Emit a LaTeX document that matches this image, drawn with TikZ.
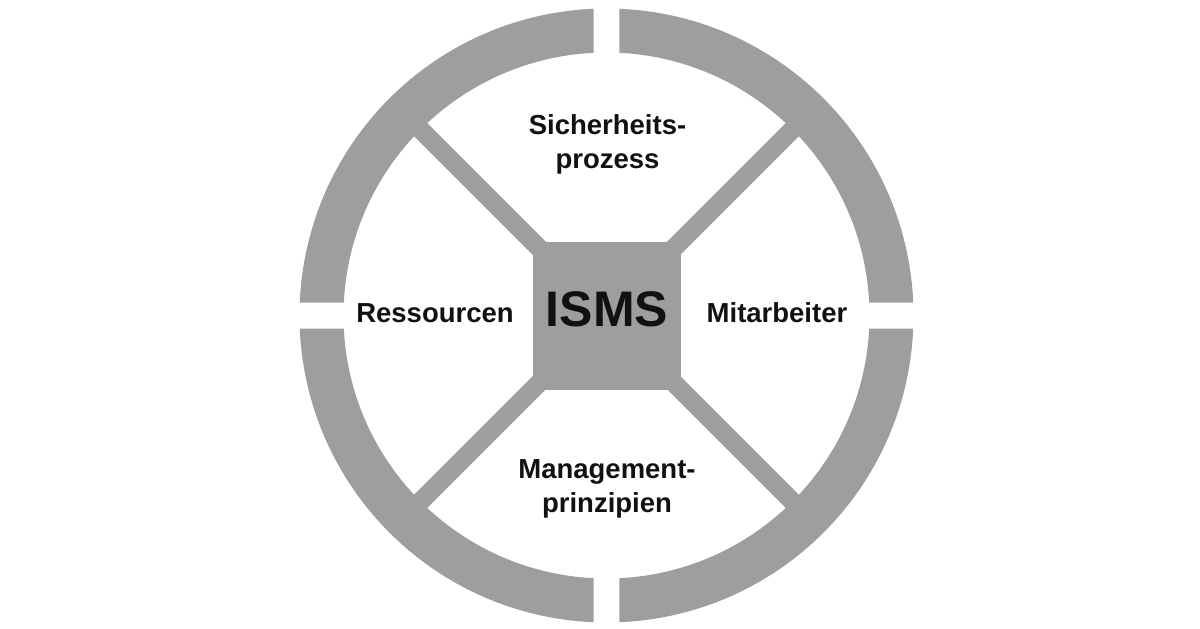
\documentclass[tikz,border=0pt]{standalone}
\usepackage{fontspec}
\setmainfont{Liberation Sans}
\definecolor{ringgray}{RGB}{158,158,158}
\definecolor{txt}{RGB}{17,17,17}
\begin{document}
\begin{tikzpicture}[x=0.5pt,y=0.5pt,
  seg/.style={fill=ringgray},
  spoke/.style={draw=ringgray,line width=9.25pt,line cap=butt},
  hub/.style={fill=ringgray,minimum width=74pt,minimum height=74pt,inner sep=0pt,
    text=txt,font=\bfseries\fontsize{25}{30}\selectfont,text depth=6pt},
  lbl/.style={text=txt,font=\bfseries\fontsize{13.75}{17}\selectfont,inner sep=0pt,align=center}]
\fill[white] (-606.5,-312.5) rectangle (593.5,315.5);
\useasboundingbox (-606.5,-312.5) rectangle (593.5,315.5);
% ring segments
\foreach \b in {0,90,180,270}{
  \fill[seg] ({\b+90-2.427}:307) arc[start angle={\b+90-2.427}, end angle={\b+2.427}, radius=153.5pt]
    -- ({\b+2.833}:263) arc[start angle={\b+2.833}, end angle={\b+90-2.833}, radius=131.5pt] -- cycle;
}
% spokes
\coordinate (c) at (0,0);
\foreach \a/\n in {45/ne,135/nw,225/sw,315/se}{
  \coordinate (e\n) at (\a:288);
  \draw[spoke] (c) -- (e\n);
}
% hub
\node[hub] (sq) at (0.5,0) {ISMS};
% labels
\node[lbl,anchor=north] (sich) at (1,201.5) {Sicherheits-\\prozess};
\node[lbl,anchor=north] (mgmt) at (0.5,-143.5) {Management-\\prinzipien};
\node[lbl,anchor=base] (ress) at (-171.5,-6.5) {Ressourcen};
\node[lbl,anchor=base] (mit) at (170.5,-6.5) {Mitarbeiter};
\end{tikzpicture}
\end{document}
